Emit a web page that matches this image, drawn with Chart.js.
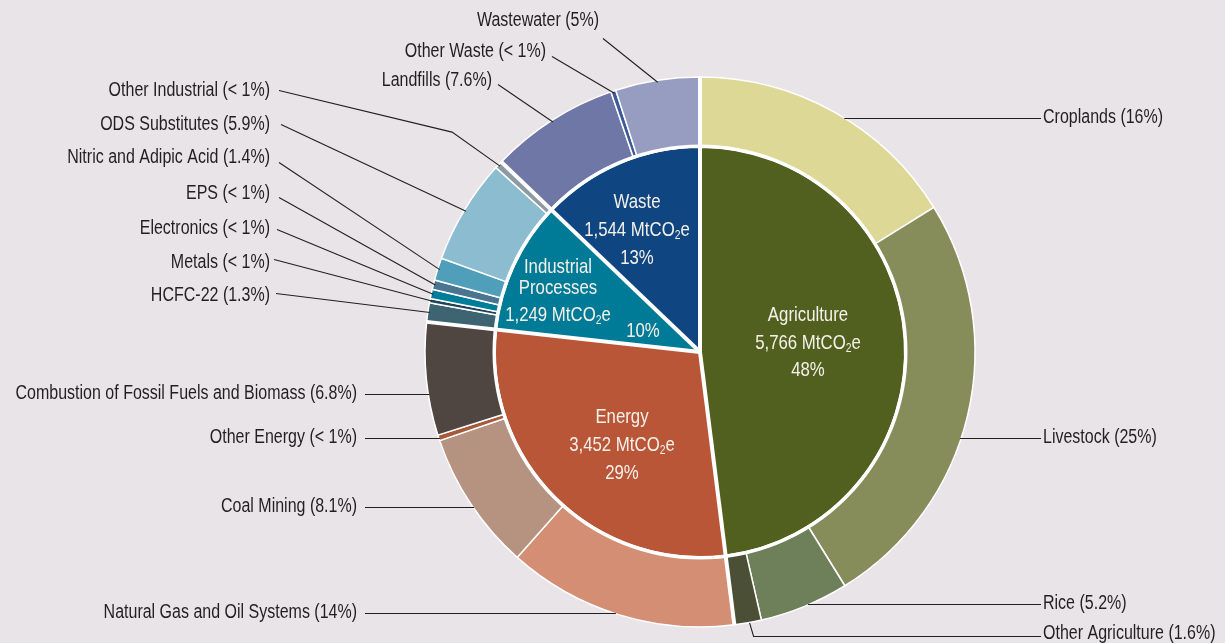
<!DOCTYPE html>
<html>
<head>
<meta charset="utf-8">
<script src="https://cdn.jsdelivr.net/npm/chart.js@4.4.1/dist/chart.umd.min.js"></script>
<style>
  html, body { margin:0; padding:0; background:#e9e4e8; }
  #wrap { width:1225px; height:643px; position:relative; }
</style>
</head>
<body>
<div id="wrap"><canvas id="c" width="1225" height="643"></canvas></div>
<script>
// ---------- DATA ----------
const sectorNames = ['Agriculture', 'Energy', 'Industrial Processes', 'Waste'];
const sectorValues = [5766, 3452, 1249, 1544]; // MtCO2e
const sectorShares = ['48%', '29%', '10%', '13%'];

const subNames = ['Croplands','Livestock','Rice','Other Agriculture',
  'Natural Gas and Oil Systems','Coal Mining','Other Energy','Combustion of Fossil Fuels and Biomass',
  'HCFC-22','Metals','Electronics','EPS','Nitric and Adipic Acid','ODS Substitutes','Other Industrial',
  'Landfills','Other Waste','Wastewater'];
const subShareLabels = ['16%','25%','5.2%','1.6%','14%','8.1%','< 1%','6.8%',
  '1.3%','< 1%','< 1%','< 1%','1.4%','5.9%','< 1%','7.6%','< 1%','5%'];
// estimated MtCO2e per subcategory (sums to each sector)
const subValues = [1945, 3000, 630, 191,
  1630, 985, 40, 797,
  135, 30, 66, 66, 158, 740, 54,
  913, 36, 595];

// ---------- STYLE ----------
const sectorColors = ['#52601f', '#b85637', '#007b97', '#0f4580'];
const subColors = ['#ded896','#868c5a','#6e805a','#4a4f36',
  '#d38e74','#b59380','#a65a3c','#4f4541',
  '#3d6470','#1e4555','#007d98','#4a7590','#4f9fba','#8bbccf','#8c9aa3',
  '#6e77a5','#3d5a9a','#979dc0'];
const FONT = "'Liberation Sans', Arial, sans-serif";
const SX = 0.80; // horizontal condensation to mimic a condensed face
const TEXT = '#231f20';

// label layout: [x, y, align, mode, lineStartX, lineStartY, elbowDx, elbowDy]
const labelLayout = [
  [1043,117,'left','h',1041,118],
  [1043,437,'left','h',1041,438],
  [1043,603,'left','h',1041,604],
  [1043,633,'left','elbow',1041,636],
  [357,612,'right','h',365,613],
  [357,506,'right','h',365,507],
  [357,437,'right','h',365,438],
  [357,393,'right','h',365,394],
  [270,295,'right','d',276,293],
  [270,262,'right','d',274,259],
  [270,228,'right','d',277,229],
  [270,193,'right','d',279,197],
  [270,157,'right','d',279,162],
  [270,124,'right','d',281,124],
  [270,90,'right','d2',279,90,-48,-34],
  [492,80,'right','d',498,84],
  [546,51,'right','d',552,56],
  [599,20,'right','d',603,38]
];
// inner text line offsets relative to pie center
const innerTextLayout = [
  [[108,-37],[108,-9],[108,18]],
  [[-78,65],[-78,93],[-78,121]],
  [[-142,-85],[-142,-64],[-142,-37],[-57,-21]],
  [[-63,-150],[-63,-122],[-63,-94]]
];
const innerTextLines = [
  ['Agriculture','5,766 MtCO₂e','48%'],
  ['Energy','3,452 MtCO₂e','29%'],
  ['Industrial','Processes','1,249 MtCO₂e','10%'],
  ['Waste','1,544 MtCO₂e','13%']
];

function fillScaled(ctx, text, x, y, align) {
  ctx.save();
  ctx.translate(x, y);
  ctx.scale(SX, 1);
  ctx.textAlign = align;
  ctx.fillText(text, 0, 0);
  ctx.restore();
}

function drawSubText(ctx, str, x, y, size, align) {
  // renders '₂' as a smaller lowered '2'
  const parts = str.split('₂');
  const big = size + 'px ' + FONT;
  const small = Math.round(size * 0.62) + 'px ' + FONT;
  ctx.font = big;
  const widths = parts.map(p => ctx.measureText(p).width * SX);
  ctx.font = small;
  const sw = ctx.measureText('2').width * SX;
  const w = widths.reduce((a,b)=>a+b,0) + sw * (parts.length - 1);
  let sx = align === 'center' ? x - w/2 : (align === 'right' ? x - w : x);
  parts.forEach((p, i) => {
    ctx.font = big;
    fillScaled(ctx, p, sx, y, 'left');
    sx += widths[i];
    if (i < parts.length - 1) {
      ctx.font = small;
      fillScaled(ctx, '2', sx, y + size * 0.28, 'left');
      sx += sw;
    }
  });
}

const overlay = {
  id: 'overlay',
  afterDatasetsDraw(chart) {
    const ctx = chart.ctx;
    const outerMeta = chart.getDatasetMeta(0);
    const innerMeta = chart.getDatasetMeta(1);
    const a0 = outerMeta.data[0];
    const cx = a0.x, cy = a0.y, R = a0.outerRadius;
    const rIn = innerMeta.data[0].outerRadius;
    ctx.save();
    // ring gap
    ctx.strokeStyle = '#ffffff';
    ctx.lineWidth = 3;
    ctx.beginPath(); ctx.arc(cx, cy, rIn + 1, 0, Math.PI * 2); ctx.stroke();
    // sector boundaries through both rings
    ctx.lineWidth = 4;
    innerMeta.data.forEach(arc => {
      const a = arc.startAngle;
      ctx.beginPath();
      ctx.moveTo(cx, cy);
      ctx.lineTo(cx + Math.cos(a) * R, cy + Math.sin(a) * R);
      ctx.stroke();
    });
    // inner labels
    ctx.fillStyle = '#f5f1ea';
    ctx.textBaseline = 'middle';
    innerTextLines.forEach((lines, i) => {
      lines.forEach((t, j) => {
        const [dx, dy] = innerTextLayout[i][j];
        drawSubText(ctx, t, cx + dx, cy + dy, 21, 'center');
      });
    });
    // outer labels + leader lines
    ctx.strokeStyle = TEXT;
    ctx.fillStyle = TEXT;
    ctx.lineWidth = 1.1;
    ctx.font = '20px ' + FONT;
    outerMeta.data.forEach((arc, i) => {
      const L = labelLayout[i];
      const [tx, ty, align, mode, lx, ly0, ex, ey] = L;
      const ly = ly0 + 0.5;
      fillScaled(ctx, subNames[i] + ' (' + subShareLabels[i] + ')', tx, ty, align);
      const mid = (arc.startAngle + arc.endAngle) / 2;
      const ax = cx + Math.cos(mid) * (R - 2), ay = cy + Math.sin(mid) * (R - 2);
      ctx.beginPath();
      if (mode === 'h') {
        const dy = ly - cy;
        const hx = Math.sqrt(Math.max(R*R - dy*dy, 0));
        const endX = lx > cx ? cx + hx - 1 : cx - hx + 1;
        ctx.moveTo(lx, ly); ctx.lineTo(endX, ly);
      } else if (mode === 'elbow') {
        ctx.moveTo(lx, ly); ctx.lineTo(ax + 6, ly); ctx.lineTo(ax + 2, ay + 2);
      } else if (mode === 'd2') {
        ctx.moveTo(lx, ly); ctx.lineTo(ax + ex, ay + ey); ctx.lineTo(ax, ay);
      } else {
        ctx.moveTo(lx, ly); ctx.lineTo(ax, ay);
      }
      ctx.stroke();
    });
    ctx.restore();
  }
};

new Chart(document.getElementById('c'), {
  type: 'doughnut',
  data: {
    labels: subNames,
    datasets: [
      { label: 'Subcategories', data: subValues, backgroundColor: subColors,
        borderColor: '#ffffff', borderWidth: 1.5, weight: 70 },
      { label: 'Sectors', data: sectorValues, backgroundColor: sectorColors,
        borderColor: '#ffffff', borderWidth: 2, weight: 205 }
    ]
  },
  options: {
    responsive: false,
    animation: false,
    cutout: 0,
    radius: 275,
    layout: { padding: { left: 425, right: 250, top: 77, bottom: 16 } },
    plugins: { legend: { display: false }, tooltip: { enabled: false } }
  },
  plugins: [overlay]
});
</script>
</body>
</html>
